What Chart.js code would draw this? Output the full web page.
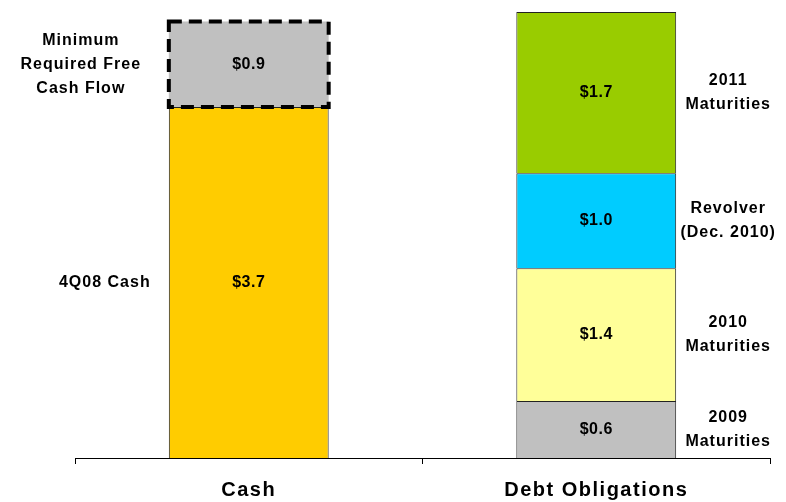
<!DOCTYPE html>
<html>
<head>
<meta charset="utf-8">
<script src="https://cdn.jsdelivr.net/npm/chart.js@4/dist/chart.umd.min.js"></script>
<style>
  body { margin: 0; background: #fff; }
  #wrap { width: 786px; height: 502px; position: relative; }
</style>
</head>
<body>
<div id="wrap"><canvas id="chart"></canvas></div>
<script>
const categories = ["Cash", "Debt Obligations"];

const cashLabels = [["4Q08 Cash"], ["Minimum", "Required Free", "Cash Flow"]];
const cashValues = [3.7, 0.9];
const cashColors = ["#FFCC00", "#C0C0C0"];

const debtLabels = [["2009", "Maturities"], ["2010", "Maturities"], ["Revolver", "(Dec. 2010)"], ["2011", "Maturities"]];
const debtValues = [0.6, 1.4, 1.0, 1.7];
const debtColors = ["#C0C0C0", "#FFFF99", "#00CCFF", "#99CC00"];

const FONT = "'Liberation Sans', Arial, sans-serif";

const datasets = [];
cashValues.forEach((v, i) => {
  datasets.push({
    label: cashLabels[i].join(" "),
    data: [v, null],
    backgroundColor: cashColors[i],
    borderColor: "#222",
    borderWidth: i === 1 ? 0 : 1,
    side: "left",
    sideLines: cashLabels[i],
    sideOffset: i === 0 ? 64 : 88,
    dashed: i === 1,
  });
});
debtValues.forEach((v, i) => {
  datasets.push({
    label: debtLabels[i].join(" "),
    data: [null, v],
    backgroundColor: debtColors[i],
    borderColor: "#222",
    borderWidth: 1,
    side: "right",
    sideLines: debtLabels[i],
    sideOffset: 52,
  });
});

const barText = {
  id: "barText",
  beforeDraw(chart) {
    // wide spacing for the category labels, like the original slide
    chart.ctx.letterSpacing = "1.5px";
  },
  afterDatasetsDraw(chart) {
    const ctx = chart.ctx;
    chart.data.datasets.forEach((ds, di) => {
      const meta = chart.getDatasetMeta(di);
      meta.data.forEach((bar, idx) => {
        const v = ds.data[idx];
        if (v == null) return;
        const p = bar.getProps(["x", "y", "base", "width"], true);
        const top = Math.min(p.y, p.base);
        const bottom = Math.max(p.y, p.base);
        const left = p.x - p.width / 2;
        const right = p.x + p.width / 2;
        const midY = (top + bottom) / 2;

        if (ds.dashed) {
          ctx.save();
          ctx.strokeStyle = "#000";
          ctx.lineWidth = 4;
          ctx.setLineDash([13, 7]);
          ctx.strokeRect(left, top, right - left, bottom - top);
          ctx.restore();
        }

        ctx.save();
        ctx.fillStyle = "#000";
        ctx.textAlign = "center";
        ctx.textBaseline = "middle";
        ctx.font = "bold 16px " + FONT;
        ctx.letterSpacing = "0.5px";
        ctx.fillText("$" + v.toFixed(1), p.x, midY);

        ctx.letterSpacing = "1px";
        const lines = ds.sideLines;
        const lh = 24;
        const cx = ds.side === "left" ? left - ds.sideOffset : right + ds.sideOffset;
        const startY = midY - (lines.length - 1) * lh / 2;
        lines.forEach((t, k) => ctx.fillText(t, cx, startY + k * lh));
        ctx.restore();
      });
    });
  },
};

new Chart(document.getElementById("chart"), {
  type: "bar",
  data: { labels: categories, datasets: datasets },
  options: {
    responsive: true,
    maintainAspectRatio: false,
    animation: false,
    categoryPercentage: 1,
    barPercentage: 0.46,
    layout: { padding: { left: 75, right: 16, top: 12, bottom: -14 } },
    plugins: {
      legend: { display: false },
      tooltip: { enabled: false },
    },
    scales: {
      x: {
        stacked: true,
        grid: {
          display: true,
          offset: true,
          drawOnChartArea: false,
          drawTicks: true,
          tickLength: 6,
          color: "#000",
        },
        border: { display: true, color: "#000", width: 1 },
        ticks: {
          color: "#000",
          padding: 14,
          font: { family: FONT, size: 20, weight: "bold" },
        },
      },
      y: {
        stacked: true,
        display: false,
        min: 0,
        max: 4.7,
      },
    },
  },
  plugins: [barText],
});
</script>
</body>
</html>
